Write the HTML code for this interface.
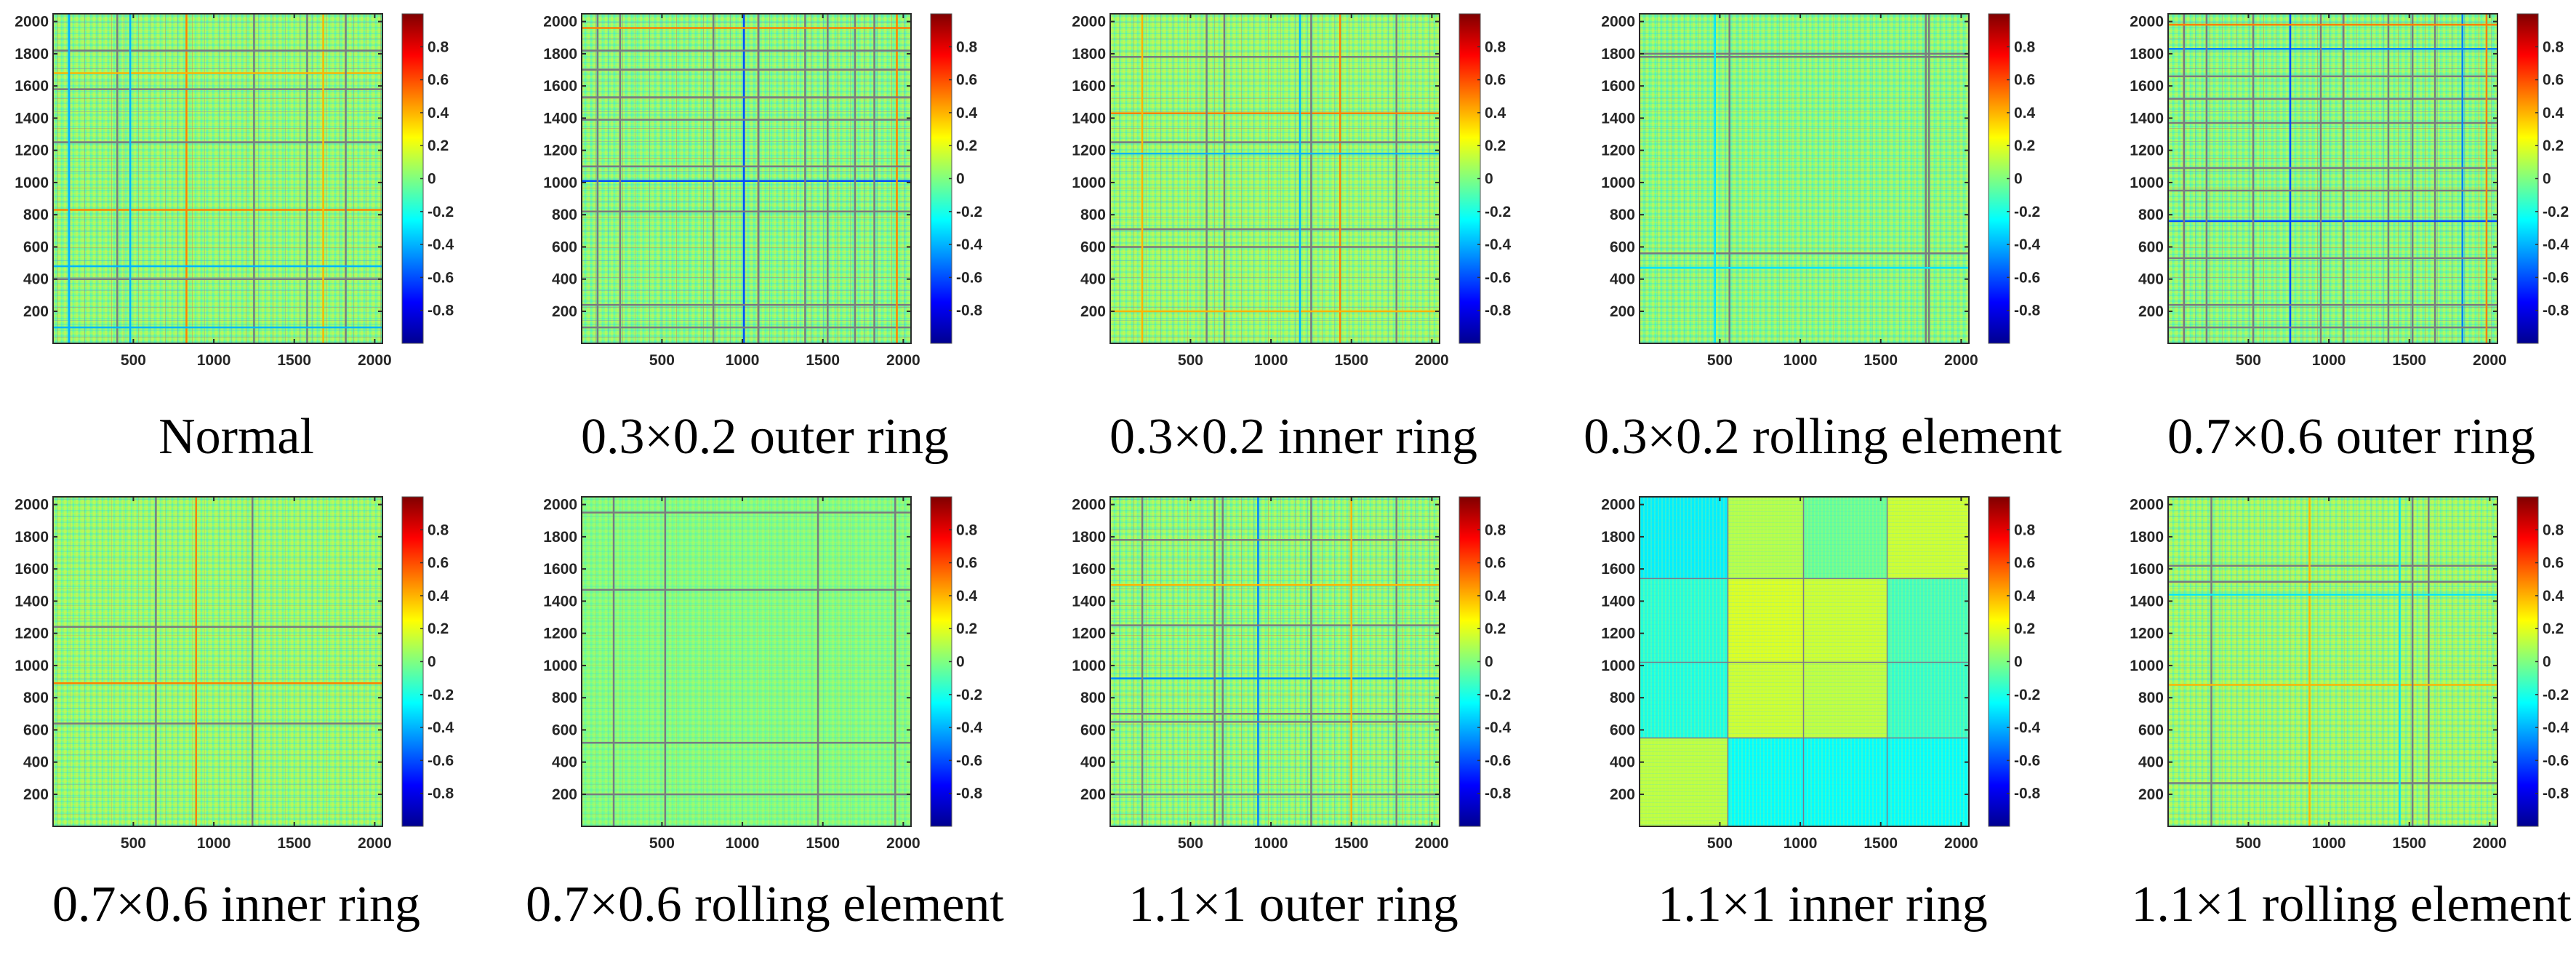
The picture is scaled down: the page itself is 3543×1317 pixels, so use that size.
<!DOCTYPE html>
<html><head><meta charset="utf-8"><style>
html,body{margin:0;padding:0;background:#fff;}
svg{display:block}
.tk{font-family:"Liberation Sans",sans-serif;font-weight:bold;font-size:21px;fill:#262626}
.tt{font-family:"Liberation Serif",serif;font-size:70px;fill:#000}
</style></head><body>
<svg id="fig" width="3543" height="1317" viewBox="0 0 3543 1317" xmlns="http://www.w3.org/2000/svg">
<defs>
<pattern id="tex" patternUnits="userSpaceOnUse" width="8" height="8">
<rect x="0" y="0" width="3" height="8" fill="#d8f050" opacity="0.45"/>
<rect x="4" y="0" width="2" height="8" fill="#40e8e0" opacity="0.4"/>
<rect x="0" y="1" width="8" height="2" fill="#e0f040" opacity="0.3"/>
<rect x="0" y="5" width="8" height="2" fill="#30d8e8" opacity="0.3"/>
</pattern>
<pattern id="grid" patternUnits="userSpaceOnUse" width="37" height="41">
<rect x="5" y="0" width="1" height="41" fill="#c08060" opacity="0.45"/>
<rect x="22" y="0" width="1" height="41" fill="#7090c0" opacity="0.4"/>
<rect x="0" y="12" width="37" height="1" fill="#c08060" opacity="0.45"/>
<rect x="0" y="30" width="37" height="1" fill="#7090c0" opacity="0.4"/>
</pattern>
<pattern id="tex2" patternUnits="userSpaceOnUse" width="5" height="5">
<rect x="0" y="0" width="2" height="5" fill="#d0f060" opacity="0.25"/>
<rect x="0" y="3" width="5" height="1" fill="#40d8e8" opacity="0.2"/>
</pattern>
<linearGradient id="jet" x1="0" y1="1" x2="0" y2="0">
<stop offset="0" stop-color="#00008f"/><stop offset="0.125" stop-color="#0000ff"/>
<stop offset="0.375" stop-color="#00ffff"/><stop offset="0.5" stop-color="#80ff80"/>
<stop offset="0.625" stop-color="#ffff00"/><stop offset="0.875" stop-color="#ff0000"/>
<stop offset="1" stop-color="#800000"/>
</linearGradient>
</defs>
</svg>
<script>
// ---- data ----
const titles = ["Normal","0.3×0.2 outer ring","0.3×0.2 inner ring","0.3×0.2 rolling element","0.7×0.6 outer ring",
 "0.7×0.6 inner ring","0.7×0.6 rolling element","1.1×1 outer ring","1.1×1 inner ring","1.1×1 rolling element"];
const baseValues = [0.02,0.0,0.04,0.0,0.0,0.04,0.0,0.02,0.0,0.05];
const gridOpacity = [0.9,1,0.8,0.4,1,0.5,0.3,0.9,0,0.4];
// feature line indices (row & column) and their values per panel (9 = gray separator)
const lineIdx = [
 [830,400,1250,1580,1680,1820,100,480],
 [1010,1390,240,100,1700,1960,1530,1100,820,1820],
 [1780,710,1430,1250,600,200,1180],
 [560,1800,1780,470],
 [1370,1520,1660,1830,760,240,530,950,1090,100,1980],
 [640,890,1240],
 [1470,520,200,1950],
 [700,920,650,1780,1250,200,1500],
 [],
 [1620,270,880,1440,1520]
];
const lineVals = [
 [0.5,9,9,9,0.4,9,-0.4,-0.4],
 [-0.6,9,9,9,9,0.5,9,9,9,9],
 [9,9,0.5,9,9,0.4,-0.4],
 [9,9,9,-0.3],
 [9,9,9,-0.5,-0.6,9,9,9,9,9,0.5],
 [9,0.5,9],
 [9,9,9,9],
 [9,-0.5,9,9,9,9,0.4],
 [],
 [9,9,0.4,-0.3,9]
];
const blockEdges = [1,550,1020,1540,2048];
const blockVals = [ // rows bottom->top, cols left->right
 [0.12,-0.25,-0.25,-0.25],
 [-0.2,0.15,0.12,-0.15],
 [-0.18,0.18,0.15,-0.12],
 [-0.28,0.1,-0.05,0.15]
];
const yTicks = [200,400,600,800,1000,1200,1400,1600,1800,2000];
const xTicks = [500,1000,1500,2000];
const cbTicks = [-0.8,-0.6,-0.4,-0.2,0,0.2,0.4,0.6,0.8];

// ---- layout ----
const colLeft = [73,800,1527,2255,2982];
const rowTop = [19,683];
const S = 453;
const titleBase = [623,1266];
const NS = "http://www.w3.org/2000/svg";
const svg = document.getElementById('fig');
function el(t,a,p){const e=document.createElementNS(NS,t);for(const k in a)e.setAttribute(k,a[k]);(p||svg).appendChild(e);return e;}
function jet(v){const t=(v+1)/2;const c=x=>Math.round(255*Math.max(0,Math.min(1,1.5-Math.abs(x))));return `rgb(${c(4*t-3)},${c(4*t-2)},${c(4*t-1)})`;}

titles.forEach((title,i)=>{
 const L=colLeft[i%5], T=rowTop[Math.floor(i/5)];
 const sx=v=>L+(v-1)/2047*S, sy=v=>T+S-(v-1)/2047*S;
 const g=el('g',{});
 
 
 const hm=el('g',{},g);
 
 
 if(i===8){
  for(let r=0;r<4;r++)for(let c=0;c<4;c++){
   const x0=sx(blockEdges[c]),x1=sx(blockEdges[c+1]),y0=sy(blockEdges[r+1]),y1=sy(blockEdges[r]);
   const b=el('rect',{x:x0,y:y0,width:x1-x0,height:y1-y0,fill:jet(blockVals[r][c])},hm);
   
   
  }
  el('rect',{x:L,y:T,width:S,height:S,fill:'url(#tex2)'},hm);
  blockEdges.slice(1,4).forEach(e=>{
   el('line',{x1:sx(e),x2:sx(e),y1:T,y2:T+S,stroke:'#7a7a8a','stroke-width':1.5},hm);
   el('line',{y1:sy(e),y2:sy(e),x1:L,x2:L+S,stroke:'#7a7a8a','stroke-width':1.5},hm);
  });
 } else {
  el('rect',{x:L,y:T,width:S,height:S,fill:jet(baseValues[i])},hm);
  el('rect',{x:L,y:T,width:S,height:S,fill:'url(#tex)',opacity:i===6?0.6:1},hm);
  el('rect',{x:L,y:T,width:S,height:S,fill:'url(#grid)',opacity:gridOpacity[i]},hm);
  lineIdx[i].forEach((k,j)=>{
   const v=lineVals[i][j]; const col=v===9?'#7a7a80':jet(v);
   const a=el('line',{x1:sx(k),x2:sx(k),y1:T,y2:T+S,stroke:col,'stroke-width':2.5},hm);
   
   
   const b=el('line',{y1:sy(k),y2:sy(k),x1:L,x2:L+S,stroke:col,'stroke-width':2.5},hm);
   
   
  });
 }
 el('rect',{x:L,y:T,width:S,height:S,fill:'none',stroke:'#2a2a2a','stroke-width':2},g);
 yTicks.forEach(v=>{
  el('line',{x1:L,x2:L+6,y1:sy(v),y2:sy(v),stroke:'#2a2a2a','stroke-width':2},g);
  el('line',{x1:L+S-6,x2:L+S,y1:sy(v),y2:sy(v),stroke:'#2a2a2a','stroke-width':2},g);
  const t=el('text',{x:L-6,y:sy(v)+7,'text-anchor':'end',class:'tk'},g);t.textContent=v;
  
  
 });
 xTicks.forEach(v=>{
  el('line',{x1:sx(v),x2:sx(v),y1:T+S,y2:T+S-6,stroke:'#2a2a2a','stroke-width':2},g);
  el('line',{x1:sx(v),x2:sx(v),y1:T,y2:T+6,stroke:'#2a2a2a','stroke-width':2},g);
  const t=el('text',{x:sx(v),y:T+S+30,'text-anchor':'middle',class:'tk'},g);t.textContent=v;
  
  
 });
 const cbx=L+S+27, cbw=29;
 const cb=el('rect',{x:cbx,y:T,width:cbw,height:S,fill:'url(#jet)',stroke:'#555','stroke-width':1},g);
 
 
 cbTicks.forEach(v=>{
  const y=T+S/2-v*S/2;
  el('line',{x1:cbx+cbw-4,x2:cbx+cbw,y1:y,y2:y,stroke:'#333','stroke-width':1.5},g);
  const t=el('text',{x:cbx+cbw+6,y:y+7,class:'tk'},g);t.textContent=v;
  
  
 });
 const tt=el('text',{x:L+252,y:titleBase[Math.floor(i/5)],'text-anchor':'middle',class:'tt'},g);
 tt.textContent=title;
 
 
});
</script>
</body></html>
